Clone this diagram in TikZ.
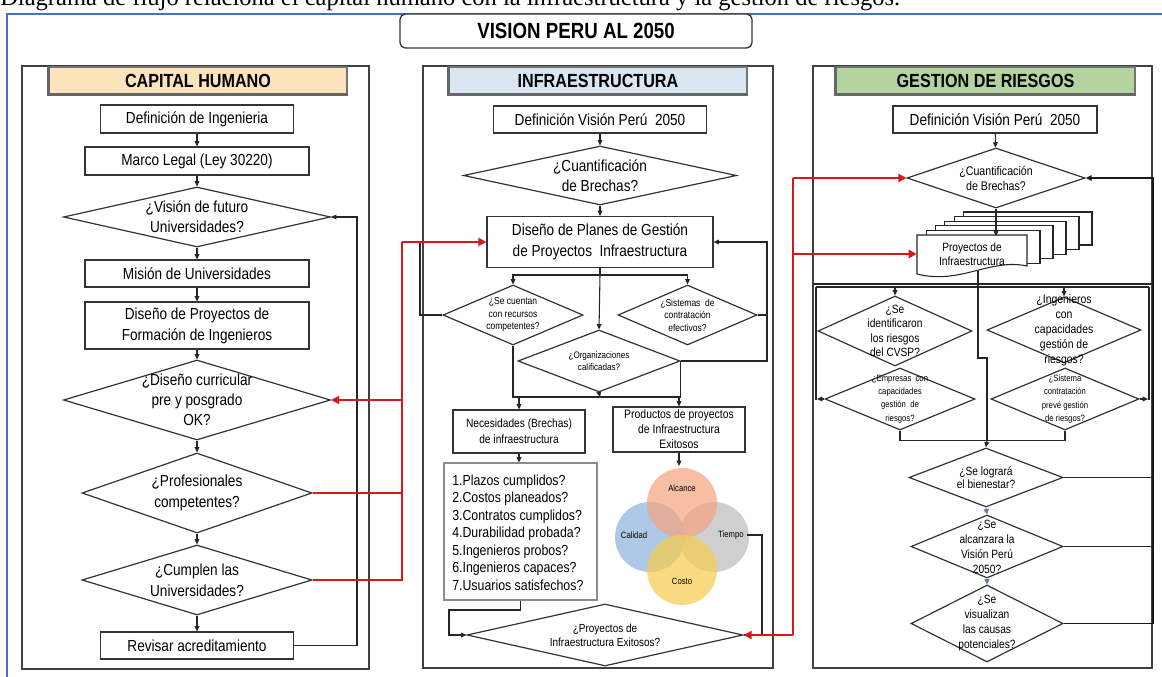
\documentclass[tikz,border=0pt]{standalone}
\usepackage{fontspec}
\setmainfont[FakeStretch=0.85]{Liberation Sans}
\newfontfamily\capfont{Liberation Serif}
\usetikzlibrary{shapes.geometric,arrows.meta}
\def\pxu{0.75pt}
\definecolor{redc}{HTML}{D7191C}
\definecolor{bluef}{HTML}{4472C4}
\definecolor{hdrA}{HTML}{FBE3BC}
\definecolor{hdrB}{HTML}{D9E5F1}
\definecolor{hdrC}{HTML}{B3D49E}
\definecolor{cOr}{HTML}{F4A582}
\definecolor{cBl}{HTML}{8FB4DC}
\definecolor{cGr}{HTML}{BDBDBD}
\definecolor{cYe}{HTML}{F7CD4F}
\definecolor{smallblue}{HTML}{5B7DB1}
\tikzset{
  every node/.style={font=\fontsize{12}{15}\selectfont},
  box/.style 2 args={draw=black!80, line width=0.9pt, fill=white, inner sep=0pt, align=center,
    minimum width=#1*\pxu, minimum height=#2*\pxu},
  dia/.style 2 args={diamond, draw=black!80, line width=0.9pt, fill=white, inner sep=-60pt, align=center,
    minimum width=#1*\pxu, minimum height=#2*\pxu},
  hdr/.style={draw=black!55, line width=1pt, inner sep=0pt, minimum height=27*\pxu,
    font=\bfseries\fontsize{14.25}{16}\selectfont},
  hdrshade/.style={draw=black!60, line width=1.8pt},
  panel/.style={draw=black!75, line width=1pt},
  ln/.style={line width=0.8pt, draw=black!85},
  arr/.style={ln, -{Triangle[length=4pt,width=3.6pt]}},
  barr/.style={line width=0.6pt, draw=smallblue, -{Triangle[length=4pt,width=4pt]}},
  rln/.style={line width=2.2pt, draw=redc},
  rarr/.style={rln, -{Triangle[length=6pt,width=6pt]}},
  vlab/.style={font=\fontsize{6.8}{8}\selectfont, inner sep=0pt},
}
\begin{document}
\begin{tikzpicture}[x=0.75pt,y=-0.75pt]
\useasboundingbox (0,0) rectangle (1162,677);
\fill[white] (0,0) rectangle (1162,677);
% caption (cut by the page top)
\node[anchor=base west, inner sep=0pt, font=\capfont\fontsize{18.4}{22}\selectfont] (cap) at (0,6)
  {Diagrama de flujo relaciona el capital humano con la infraestructura y la gestión de riesgos.};
% blue frame
\draw[bluef, line width=1.6pt] (7,680) -- (7,14) -- (1165,14);
% title
\node[draw=black!80, line width=1pt, rounded corners=4pt, fill=white, inner sep=0pt,
  minimum width=352*\pxu, minimum height=34*\pxu, font=\bfseries\fontsize{16.5}{18}\selectfont]
  (title) at (576,31) {VISION PERU AL 2050};

% panels
\draw[panel] (22,66) rectangle (369,669);
\draw[panel] (423,66) rectangle (773,668);
\draw[panel] (813,66) rectangle (1152,668);
\node[hdr, fill=hdrA, minimum width=298*\pxu] (h1) at (198,80.5) {CAPITAL HUMANO};
\node[hdr, fill=hdrB, minimum width=298*\pxu] (h2) at (598,80.5) {INFRAESTRUCTURA};
\node[hdr, fill=hdrC, minimum width=299*\pxu] (h3) at (985.5,80.5) {GESTION DE RIESGOS};
\draw[hdrshade] (h1.north west) |- (h1.south east);
\draw[hdrshade] (h2.north west) |- (h2.south east);
\draw[hdrshade] (h3.north west) |- (h3.south east);

% ===== left panel =====
\node[box={193}{28}] (def1) at (197,119) {Definición de Ingenieria};
\node[box={224}{28}] (marco) at (197,161) {Marco Legal (Ley 30220)};
\node[dia={267}{60}] (vis) at (197,217) {¿Visión de futuro\\Universidades?};
\node[box={224}{27}] (mis) at (197,273.5) {Misión de Universidades};
\node[box={224}{47}, font=\fontsize{12}{15.75}\selectfont] (dpf) at (197,325.5) {Diseño de Proyectos de\\Formación de Ingenieros};
\node[dia={267}{80}] (cur) at (197,400) {¿Diseño curricular\\pre y posgrado\\OK?};
\node[dia={230}{80}, font=\fontsize{12}{15.75}\selectfont] (prof) at (197,493) {¿Profesionales\\competentes?};
\node[dia={230}{70}, font=\fontsize{12}{15.75}\selectfont] (cum) at (197,580) {¿Cumplen las\\Universidades?};
\node[box={193}{27}] (rev) at (197,645.5) {Revisar acreditamiento};
\draw[arr] (def1) -- (marco);
\draw[arr] (marco) -- (vis);
\draw[arr] (vis) -- (mis);
\draw[arr] (mis) -- (dpf);
\draw[arr] (dpf) -- (cur);
\draw[arr] (cur) -- (prof);
\draw[arr] (prof) -- (cum);
\draw[arr] (cum) -- (rev);
\coordinate (fbL) at (357,217);
\draw[arr] (rev.east) -| (fbL) -- (vis.east);

% ===== middle panel =====
\node[box={213}{27}] (def2) at (600,119.5) {Definición Visión Perú \ 2050};
\node[dia={273}{59}] (cuant) at (600,175.5) {¿Cuantificación\\de Brechas?};
\node[box={226}{51}, font=\fontsize{12}{15.75}\selectfont] (plan) at (600,242) {Diseño de Planes de Gestión\\de Proyectos \ Infraestructura};
\node[dia={140}{60}, font=\fontsize{7.5}{9.4}\selectfont] (cuen) at (513,315) {¿Se cuentan\\con recursos\\competentes?};
\node[dia={139}{60}, font=\fontsize{7.5}{9.4}\selectfont] (sist) at (687.5,315) {¿Sistemas \ de\\contratación\\efectivos?};
\node[dia={162}{62}, font=\fontsize{7.1}{9}\selectfont] (org) at (599,361) {¿Organizaciones\\calificadas?};
\node[box={132}{43}, font=\fontsize{9}{12}\selectfont] (nec) at (519,431.5) {Necesidades (Brechas)\\de infraestructura};
\node[box={132}{45}, font=\fontsize{9.2}{11.25}\selectfont] (prod) at (679,429.5) {Productos de proyectos\\de Infraestructura\\Exitosos};
\node[draw=black!45, line width=0.8pt, fill=white, inner sep=0pt, minimum width=153*\pxu, minimum height=137*\pxu] (lst) at (520.5,531.5) {};
\node[anchor=west, align=left, inner sep=0pt, font=\fontsize{10.9}{13.1}\selectfont] (lstT) at (452,532.5)
  {1.Plazos cumplidos?\\2.Costos planeados?\\3.Contratos cumplidos?\\4.Durabilidad probada?\\5.Ingenieros probos?\\6.Ingenieros capaces?\\7.Usuarios satisfechos?};
\node[dia={276}{62}, font=\fontsize{8.8}{10.5}\selectfont] (exit) at (605,635) {¿Proyectos de\\Infraestructura Exitosos?};
% venn
\begin{scope}[fill opacity=0.72]
\fill[cBl] (650,537) circle (35);
\fill[cGr] (714,537) circle (35);
\fill[cOr] (682,503) circle (35);
\fill[cYe] (682,570) circle (35);
\end{scope}
\node[vlab] (lA) at (682,488) {Alcance};
\node[vlab] (lC) at (634,535) {Calidad};
\node[vlab] (lT) at (731,535) {Tiempo};
\node[vlab] (lK) at (682,581) {Costo};
% middle connectors
\draw[arr] (def2) -- (cuant);
\draw[arr] (cuant) -- (plan);
\coordinate (sp1) at (600,275);
\draw[ln] (plan.south) -- (sp1);
\draw[arr] (sp1) -| (cuen.north);
\draw[arr] (sp1) -| (sist.north);
\draw[arr] (sp1) -- (org.north);
\coordinate (jn) at (600,397);
\draw[ln] (cuen.south) |- (jn);
\draw[ln] (org.east) |- (jn);
\draw[arr] (org.south) -- (jn);
\draw[arr] (nec.north |- jn) -- (nec.north);
\draw[arr] (prod.north |- jn) -- (prod.north);
\draw[arr] (nec.south) -- (nec.south |- lst.north);
\coordinate (vtop) at (679,466);
\draw[arr] (prod.south) -- (vtop);
\coordinate (lq) at (449,610);
\draw[arr] (lst.south) |- (lq) |- (exit.west);
\coordinate (fbM1) at (420,242);
\draw[ln] (cuen.west) -| (fbM1);
\coordinate (fbM2) at (767,242);
\draw[arr] (org.east) -| (fbM2) -- (plan.east);
\draw[ln] (sist.east) -- (sist.east -| fbM2);
\coordinate (tq) at (762,635);
\draw[ln] (lT.east) ++(3,0) -| (tq) -- (exit.east);

% ===== right panel =====
\node[box={204}{27}] (def3) at (995,119.5) {Definición Visión Perú \ 2050};
\node[dia={178}{60}, font=\fontsize{9.4}{11.25}\selectfont] (cuant3) at (996,178) {¿Cuantificación\\de Brechas?};
% stacked documents
\foreach \k in {5,4,3,2,1} {
  \draw[line width=0.8pt, draw=black!85, fill=white] ({917+9.3*\k},{235-4.6*\k}) rectangle ({1027+13*\k},{268-4.6*\k});
}
\draw[line width=0.8pt, draw=black!85, fill=white] (917,235) -- (1027,235) -- (1027,266)
  .. controls (990,258) and (960,285) .. (917,274) -- cycle;
\node[inner sep=0pt, minimum width=110*\pxu, minimum height=35*\pxu, align=center,
  font=\fontsize{9}{10.5}\selectfont] (proy) at (972,254) {Proyectos de\\Infraestructura};
\draw[arr] (cuant3.south) -- (cuant3.south |- proy.north);
% inner bars
\coordinate (tb) at (895,287);
\draw[ln] (813,284) -- (1152,284);
\draw[ln] (816,287) -- (1149,287);
\draw[ln] (816,287) -- (816,400);
\draw[ln] (1149,287) -- (1149,400);
\node[dia={154}{70}, font=\fontsize{9}{10.9}\selectfont] (ident) at (895,331) {¿Se\\identificaron\\los riesgos\\del CVSP?};
\node[dia={154}{66}, font=\fontsize{9.2}{11.25}\selectfont] (ing) at (1064,330) {¿Ingenieros\\con\\capacidades\\gestión de\\riesgos?};
\node[dia={150}{62}, font=\fontsize{6.8}{10}\selectfont] (empr) at (900,399) {¿Empresas \ con\\capacidades\\gestión \ de\\riesgos?};
\node[dia={148}{62}, font=\fontsize{6.8}{10}\selectfont] (sist2) at (1065,399) {¿Sistema\\contratación\\prevé gestión\\de riesgos?};
\node[dia={154}{59}, font=\fontsize{9}{10}\selectfont] (logra) at (986,477.5) {¿Se logrará\\el bienestar?};
\node[dia={152}{63}, font=\fontsize{9}{11.25}\selectfont] (alc) at (987,546.5) {¿Se\\alcanzara la\\Visión Perú\\2050?};
\node[dia={152}{77}, font=\fontsize{9}{11.25}\selectfont] (vis2) at (987,623.5) {¿Se\\visualizan\\las causas\\potenciales?};
\draw[arr] (def3) -- (cuant3);
\draw[arr] (ident.north |- tb) -- (ident.north);
\draw[arr] (ing.north |- tb) -- (ing.north);
\draw[arr] (empr.west) -- (817,399);
\draw[arr] (sist2.east) -- (1148,399);
\draw[ln] (empr.south) -- ++(0,10) -| (sist2.south);
\coordinate (pb) at (978,271);
\coordinate (pj) at (987,440);
\draw[ln] (pb) -- (978,358) -| (pj);
\draw[arr] (pj) -- (logra.north);
\draw[barr] (logra.south) -- (alc.north);
\draw[barr] (alc.south) -- (vis2.north);
\coordinate (fbR) at (1153,178);
\draw[line width=1.4pt, draw=black!90, -{Triangle[length=4.5pt,width=4pt]}] (vis2.east) -| (fbR) -- (cuant3.east);
\draw[ln] (logra.east) -- (logra.east -| fbR);
\draw[ln] (alc.east) -- (alc.east -| fbR);

% ===== red connectors =====
\coordinate (rx1) at (402,242);
\draw[rln] (cum.east) -| (rx1);
\draw[rarr] (rx1) -- (plan.west);
\draw[rln] (prof.east) -- (prof.east -| rx1);
\draw[rarr] (cur.east -| rx1) -- (cur.east);
\coordinate (rx2) at (793,178);
\draw[rln] (exit.east -| rx2) -- (rx2);
\draw[rarr] (exit.east -| rx2) -- (exit.east);
\draw[rarr] (rx2) -- (cuant3.west);
\draw[rarr] (proy.west -| rx2) -- (proy.west);
\end{tikzpicture}
\end{document}
